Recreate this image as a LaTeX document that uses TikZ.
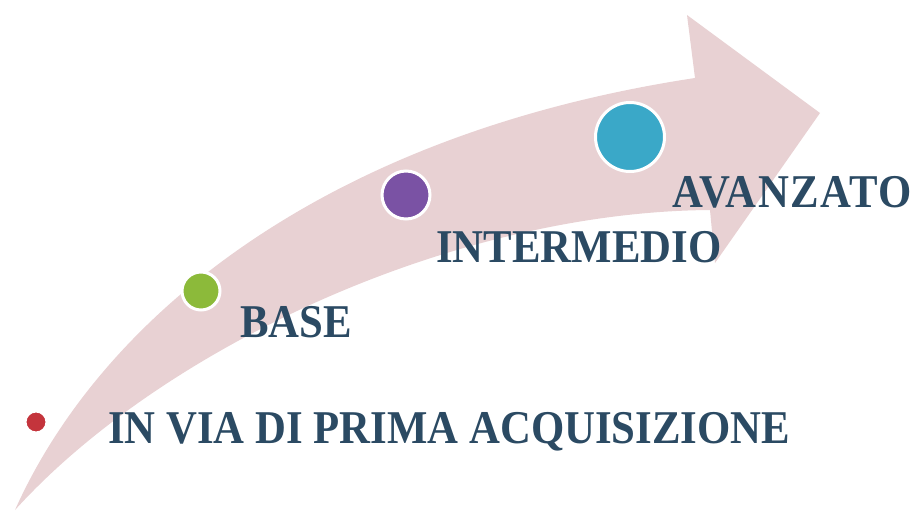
\documentclass[tikz,border=0pt]{standalone}
\usepackage{fontspec}
\setmainfont[FakeStretch=0.91]{Liberation Serif}
\definecolor{arrowpink}{RGB}{232,209,211}
\definecolor{labelblue}{RGB}{43,74,99}
\definecolor{dotred}{RGB}{196,52,60}
\definecolor{dotgreen}{RGB}{140,186,58}
\definecolor{dotpurple}{RGB}{122,82,164}
\definecolor{dotteal}{RGB}{58,168,200}
\begin{document}
\begin{tikzpicture}[x=1pt,y=-1pt,
	dot/.style={circle,draw=white,line width=3pt,inner sep=0pt},
	level/.style={anchor=base west,inner sep=0pt,text=labelblue,
		font=\bfseries\fontsize{47}{56}\selectfont}]
		\useasboundingbox (0,0) rectangle (916,513);
		% curved arrow
		\fill[arrowpink] (15,510) .. controls (100,320) and (320,135) .. (695,78)
			-- (687,15) -- (820,113) -- (715,263) -- (710,210)
			.. controls (450,212) and (160,350) .. (15,510) -- cycle;
		% dots
		\foreach \name/\x/\y/\d/\col in {red/36/422/22/dotred,green/201/291/38/dotgreen,purple/406/195/48/dotpurple,teal/630/137/69/dotteal}
		{
			\node[dot,fill=\col,minimum size=\d pt] (\name) at (\x,\y) {};
		}
		% levels
		\node[level] (prima) at (108,443) {IN VIA DI PRIMA ACQUISIZIONE};
		\node[level] (base) at (240,337) {BASE};
		\node[level] (intermedio) at (436,262) {INTERMEDIO};
		\node[level] (avanzato) at (672,208) {\addfontfeature{LetterSpace=3}AVANZATO};
		\end{tikzpicture}
\end{document}
